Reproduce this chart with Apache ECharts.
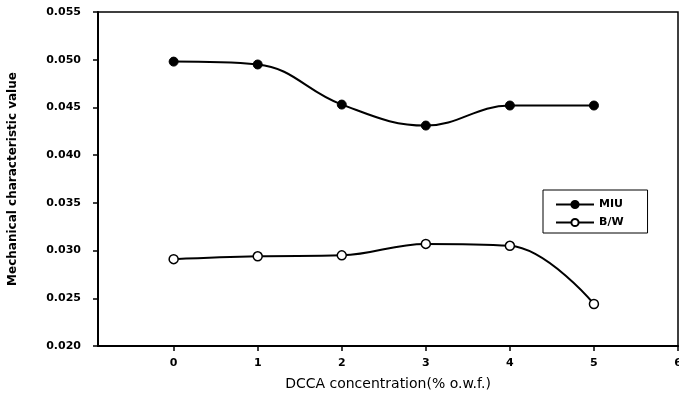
<!DOCTYPE html>
<html>
<head>
<meta charset="utf-8">
<script src="https://cdn.jsdelivr.net/npm/echarts@6/dist/echarts.min.js"></script>
<style>
  html, body { margin: 0; padding: 0; background: #fff; }
  #chart { width: 679px; height: 401px; }
</style>
</head>
<body>
<div id="chart"></div>
<script>
// 数据
const concentrations = [0, 1, 2, 3, 4, 5];
const miuValues = [0.0498, 0.0495, 0.0453, 0.0431, 0.0452, 0.0452];
const bwValues = [0.0291, 0.0294, 0.0295, 0.0307, 0.0305, 0.0244];
const xTicks = [0, 1, 2, 3, 4, 5, 6];

const font = 'DejaVu Sans';

/** 组合成 [x, y] 点对 */
function pairs(xs, ys) {
	return xs.map((x, i) => [x, ys[i]]);
}

const chart = echarts.init(document.getElementById('chart'));

const option = {
	backgroundColor: '#fff',
	animation: false,
	grid: {
		left: 98, right: 1, top: 12, bottom: 55,
		outerBoundsMode: 'none',
		show: true, borderColor: '#000', borderWidth: 1.5
	},
	legend: {
		orient: 'vertical',
		left: 543, top: 190,
		padding: [9, 24, 5, 12],
		itemWidth: 38, itemHeight: 9, itemGap: 7,
		borderColor: '#000', borderWidth: 1,
		textStyle: { fontFamily: font, fontWeight: 'bold', fontSize: 11, color: '#000' },
		data: ['MIU', 'B/W']
	},
	xAxis: {
		type: 'value',
		min: -0.9, max: 6,
		name: 'DCCA concentration(% o.w.f.)',
		nameLocation: 'middle', nameGap: 31,
		nameTextStyle: { fontFamily: font, fontSize: 14, color: '#000' },
		axisLine: { onZero: false, lineStyle: { color: '#000', width: 2 } },
		axisTick: { customValues: xTicks, length: 5, lineStyle: { color: '#000', width: 1.5 } },
		axisLabel: {
			customValues: xTicks, margin: 12,
			fontFamily: font, fontWeight: 'bold', fontSize: 11, color: '#000'
		},
		splitLine: { show: false }
	},
	yAxis: {
		type: 'value',
		min: 0.020, max: 0.055, interval: 0.005,
		name: 'Mechanical characteristic value',
		nameLocation: 'middle', nameGap: 79,
		nameTextStyle: { fontFamily: font, fontWeight: 'bold', fontSize: 12, color: '#000' },
		axisLine: { show: true, onZero: false, lineStyle: { color: '#000', width: 2 } },
		axisTick: { show: true, length: 5, lineStyle: { color: '#000', width: 1.5 } },
		axisLabel: {
			margin: 17,
			formatter: v => v.toFixed(3),
			fontFamily: font, fontWeight: 'bold', fontSize: 11, color: '#000'
		},
		splitLine: { show: false }
	},
	series: [
		{
			name: 'MIU', type: 'line', smooth: 0.4,
			data: pairs(concentrations, miuValues),
			symbol: 'circle', symbolSize: 9,
			lineStyle: { color: '#000', width: 2 },
			itemStyle: { color: '#000', borderColor: '#000', borderWidth: 1 }
		},
		{
			name: 'B/W', type: 'line', smooth: 0.4,
			data: pairs(concentrations, bwValues),
			symbol: 'circle', symbolSize: 9,
			lineStyle: { color: '#000', width: 2 },
			itemStyle: { color: '#fff', borderColor: '#000', borderWidth: 1.5 }
		}
	]
};

chart.setOption(option);
</script>
</body>
</html>
